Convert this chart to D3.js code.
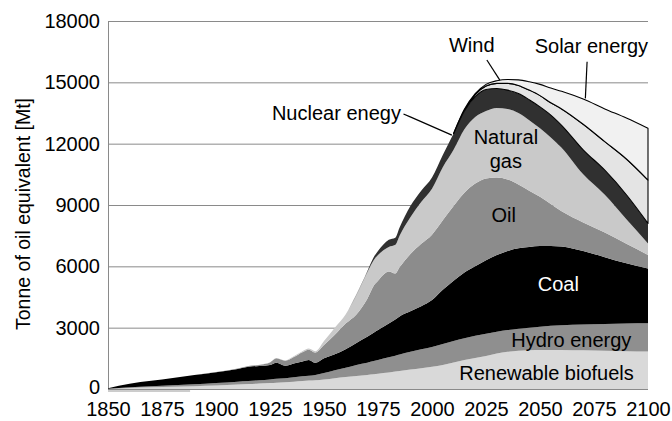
<!DOCTYPE html>
<html>
<head>
<meta charset="utf-8">
<script src="https://cdn.jsdelivr.net/npm/d3@7"></script>
<style>
body { margin: 0; background: #fff; }
svg text { font-family: "Liberation Sans", Arial, Helvetica, sans-serif; fill: #000; }
</style>
</head>
<body>
<div id="chart"></div>
<script>
// years and per-source amounts (Mt of oil equivalent)
var years    = [1850,1860,1870,1880,1890,1900,1910,1915,1920,1925,1928,1932,1936,1940,1943,1946,1950,1955,1960,1965,1970,1973,1975,1980,1983,1985,1990,1995,2000,2005,2010,2015,2020,2025,2030,2035,2040,2045,2050,2055,2060,2070,2080,2090,2100];
var biofuels = [10,50,80,110,140,170,220,240,270,290,310,330,360,390,410,430,470,530,590,640,690,720,750,810,850,880,950,1020,1090,1180,1300,1420,1520,1620,1740,1820,1870,1900,1910,1910,1905,1890,1870,1850,1830];
var hydro    = [5,30,50,70,90,120,140,150,160,180,190,200,210,230,240,260,310,390,450,540,600,650,670,740,780,810,870,920,970,1020,1050,1060,1080,1080,1060,1060,1080,1100,1140,1180,1215,1270,1310,1350,1380];
var coal     = [25,180,270,360,450,530,620,700,700,710,790,610,680,730,770,590,720,780,910,1070,1260,1380,1460,1650,1770,1860,1980,2110,2290,2650,2950,3220,3400,3600,3750,3870,3930,3950,3950,3910,3850,3590,3270,2950,2690];
var oil      = [0,0,0,0,0,10,20,30,50,120,210,240,310,450,500,500,650,950,1250,1400,1850,2300,2420,2550,2250,2400,2800,3050,3200,3400,3650,3900,4050,4000,3800,3500,3120,2750,2400,2050,1730,1400,1200,950,650];
var gas      = [0,0,0,0,0,0,0,0,10,10,20,20,40,50,60,70,200,350,450,950,1300,1250,1250,1200,1400,1550,1800,2050,2250,2600,2750,3100,3250,3300,3400,3450,3500,3450,3350,3250,3100,2350,1850,1200,570];
var nuclear  = [0,0,0,0,0,0,0,0,0,0,0,0,0,0,0,0,0,0,0,20,50,150,200,350,350,400,550,550,550,600,800,900,1000,1050,950,920,950,1000,1050,1100,1100,1200,1200,1200,980];
var wind     = [0,0,0,0,0,0,0,0,0,0,0,0,0,0,0,0,0,0,0,0,0,0,0,0,0,0,0,0,0,0,0,50,100,170,250,330,400,470,550,600,800,1250,1400,1750,2120];
var solar    = [0,0,0,0,0,0,0,0,0,0,0,0,0,0,0,0,0,0,0,0,0,0,0,0,0,0,0,0,0,0,0,30,50,80,130,190,270,410,550,720,860,1230,1600,2000,2530];

var yTicks = [0,3000,6000,9000,12000,15000,18000];
var xTicks = [1850,1875,1900,1925,1950,1975,2000,2025,2050,2075,2100];

var keys = ["biofuels","hydro","coal","oil","gas","nuclear","wind","solar"];
var colors = {biofuels:"#d9d9d9", hydro:"#8f8f8f", coal:"#000000", oil:"#8c8c8c",
              gas:"#c9c9c9", nuclear:"#303030", wind:"#e4e4e4", solar:"#f1f1f1"};

var table = years.map(function(yr, i){
    return {year: yr, biofuels: biofuels[i], hydro: hydro[i], coal: coal[i], oil: oil[i],
            gas: gas[i], nuclear: nuclear[i], wind: wind[i], solar: solar[i]};
});

var W = 672, H = 421;
var margin = {top: 21, right: 24, bottom: 32, left: 108};
var width = W - margin.left - margin.right,
    height = H - margin.top - margin.bottom;
var fs = 20;

var svg = d3.select("#chart").append("svg")
    .attr("width", W).attr("height", H);
var g = svg.append("g")
    .attr("transform", "translate(" + margin.left + "," + margin.top + ")");

var x = d3.scaleLinear().domain([1850, 2100]).range([0, width]);
var y = d3.scaleLinear().domain([0, 18000]).range([height, 0]);

// grid + left axis
var yAxis = g.append("g")
    .call(d3.axisLeft(y).tickValues(yTicks).tickSize(-width).tickSizeOuter(0)
        .tickPadding(8).tickFormat(d3.format("d")));
yAxis.selectAll("line").attr("stroke", "#8a8a8a");
yAxis.select(".domain").attr("stroke", "#8a8a8a");
yAxis.selectAll("text").style("font-size", fs + "px");
yAxis.selectAll(".tick").filter(function(d){ return d === 0; })
    .select("text").attr("dy", "0.22em");

// bit of baseline showing under the start of the areas
g.append("line")
    .attr("x1", x(1850)).attr("x2", x(1888))
    .attr("y1", y(0) + 2).attr("y2", y(0) + 2)
    .attr("stroke", "#9a9a9a");

var xAxis = g.append("g")
    .attr("transform", "translate(0," + height + ")")
    .call(d3.axisBottom(x).tickValues(xTicks).tickSize(0).tickPadding(13).tickFormat(d3.format("d")));
xAxis.select(".domain").remove();
xAxis.selectAll("text").style("font-size", fs + "px");

// stacked areas
var series = d3.stack().keys(keys)(table);
var area = d3.area()
    .curve(d3.curveMonotoneX)
    .x(function(d){ return x(d.data.year); })
    .y0(function(d){ return y(d[0]); })
    .y1(function(d){ return y(d[1]); });

g.selectAll(".layer")
    .data(series)
    .enter().append("path")
    .attr("class", "layer")
    .attr("fill", function(d){ return colors[d.key]; })
    .attr("stroke", function(d){ return (d.key == "wind" || d.key == "solar") ? "#000" : "none"; })
    .attr("stroke-width", 1.1)
    .attr("stroke-linejoin", "round")
    .attr("d", function(d){
        if (d.key == "wind" || d.key == "solar") {
            return area.defined(function(p){ return p.data.year >= 2010; })(d);
        }
        return area.defined(function(){ return true; })(d);
    });

// labels
function label(year, val, str, color, anchor) {
    g.append("text")
        .attr("x", x(year))
        .attr("y", y(val))
        .attr("text-anchor", anchor || "middle")
        .attr("dy", "0.35em")
        .style("font-size", fs + "px")
        .style("fill", color || "#000")
        .text(str);
}
label(2053, 780, "Renewable biofuels");
label(2064.5, 2400, "Hydro energy");
label(2058.5, 5150, "Coal", "#fff");
label(2033.2, 8500, "Oil");
label(2034.2, 12330, "Natural");
label(2034.2, 11150, "gas");
label(1985.6, 13520, "Nuclear enegy", "#000", "end");
label(2018.4, 16820, "Wind");
label(2073.8, 16770, "Solar energy");

// pointer lines
var pointer = d3.line()
    .x(function(d){ return x(d[0]); })
    .y(function(d){ return y(d[1]); });
var pointers = [
    [[1986.8, 13450], [1990.2, 13300], [2009.2, 12420]],
    [[2025.4, 16090], [2031.4, 15110]],
    [[2071.8, 16005], [2071.0, 14215]]
];
g.selectAll(".pointer")
    .data(pointers)
    .enter().append("path")
    .attr("class", "pointer")
    .attr("fill", "none")
    .attr("stroke", "#000")
    .attr("stroke-width", 1.2)
    .attr("d", pointer);

// axis title
svg.append("text")
    .attr("transform", "translate(30,214) rotate(-90)")
    .attr("text-anchor", "middle")
    .style("font-size", "19.5px")
    .text("Tonne of oil equivalent [Mt]");
</script>
</body>
</html>
